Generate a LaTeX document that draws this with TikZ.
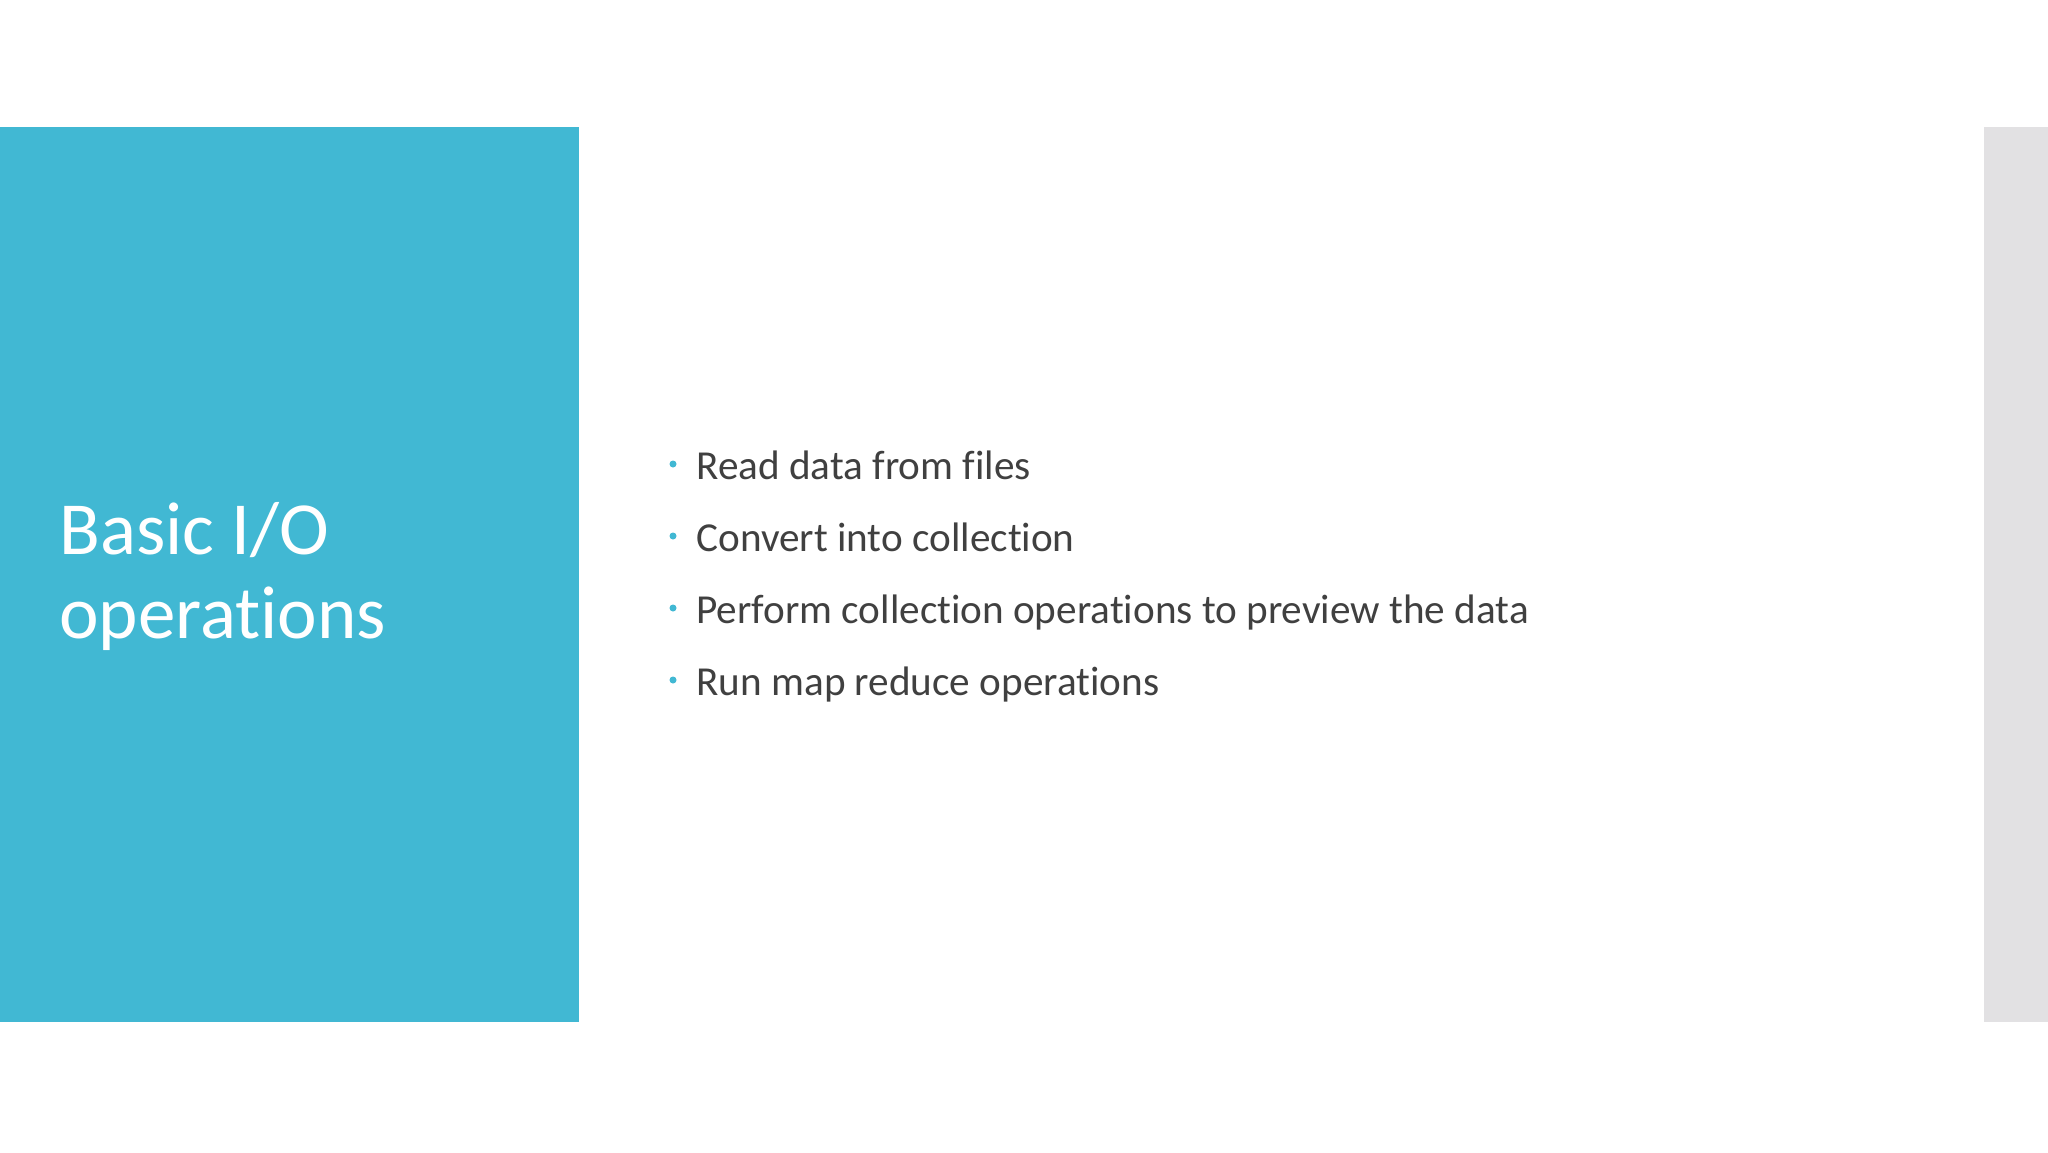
\documentclass[tikz,border=0pt]{standalone}
\usepackage{fontspec}
\setmainfont[Ligatures={NoCommon,NoContextual}]{Carlito}
\definecolor{teal1}{HTML}{41B8D3}
\definecolor{gbar}{HTML}{E2E1E3}
\definecolor{txt}{HTML}{404040}
\tikzset{item/.style={anchor=base west,text=txt,font=\fontsize{20.6}{24}\selectfont,inner sep=0pt},
dot/.style={circle,fill=teal1,inner sep=0pt,minimum size=3.5pt}}
\begin{document}
\begin{tikzpicture}[x=0.5pt,y=-0.5pt]
\useasboundingbox (0,0) rectangle (2048,1152);
\fill[white] (0,0) rectangle (2048,1152);
\fill[teal1] (0,127) rectangle (579,1022);
\fill[gbar] (1984,127) rectangle (2048,1022);
\node[anchor=base west,text=white,font=\fontsize{37.5}{42}\selectfont,inner sep=0pt,align=left] (title) at (59,638) {Basic I/O\\operations};
\foreach \t [count=\i] in {Read data from files,Convert into collection,Perform collection operations to preview the data,Run map reduce operations}{
  \node[item] (b\i) at (696,{479+72*(\i-1)}) {\t};
  \node[dot] (d\i) at (673,{464+72*(\i-1)}) {};
}
\end{tikzpicture}
\end{document}
